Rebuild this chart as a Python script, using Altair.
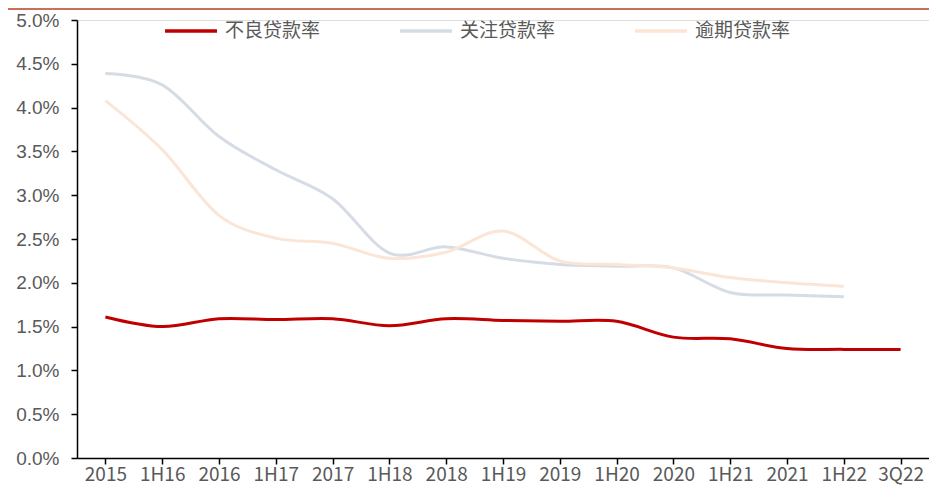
import altair as alt
import pandas as pd

periods = ["2015", "1H16", "2016", "1H17", "2017", "1H18", "2018", "1H19",
           "2019", "1H20", "2020", "1H21", "2021", "1H22", "3Q22"]
npl = [1.61, 1.50, 1.59, 1.58, 1.59, 1.51, 1.59, 1.57, 1.56, 1.56, 1.38, 1.36, 1.25, 1.24, 1.24]
special = [4.39, 4.26, 3.67, 3.29, 2.96, 2.34, 2.41, 2.28, 2.21, 2.19, 2.17, 1.89, 1.86, 1.84, None]
overdue = [4.08, 3.52, 2.77, 2.51, 2.45, 2.28, 2.35, 2.59, 2.25, 2.21, 2.17, 2.06, 2.00, 1.96, None]

series_names = ["不良贷款率", "关注贷款率", "逾期贷款率"]
series_colors = ["#C00000", "#D6DCE5", "#FBE5D6"]

rows = []
for name, vals in zip(series_names, [npl, special, overdue]):
    for i, (p, v) in enumerate(zip(periods, vals)):
        if v is not None:
            rows.append({"period": p, "series": name, "value": v / 100, "order": i})
df = pd.DataFrame(rows)

font = "Noto Sans CJK SC"
numfont = "Liberation Sans"
grey = "#595959"

base = alt.Chart(df)

lines = base.mark_line(interpolate="cardinal", strokeWidth=3).encode(
    x=alt.X("period:N", sort=periods, scale=alt.Scale(paddingInner=0, paddingOuter=0),
            axis=alt.Axis(title=None, labelAngle=0, labelFont=font, labelFontSize=19,
                          labelColor=grey, domainColor="#000000", domainWidth=1.5,
                          tickColor="#000000", tickSize=6, tickWidth=1.5,
                          bandPosition=0, labelPadding=1, grid=False)),
    y=alt.Y("value:Q", scale=alt.Scale(domain=[0, 0.05], nice=False),
            axis=alt.Axis(title=None, format=".1%", values=[i * 0.005 for i in range(11)],
                          labelFont=numfont, labelFontSize=19, labelColor=grey,
                          domainColor="#000000", domainWidth=1.5, tickColor="#000000",
                          tickSize=6, tickWidth=1.5, labelPadding=12, grid=False)),
    color=alt.Color("series:N", sort=series_names,
                    scale=alt.Scale(domain=series_names, range=series_colors),
                    legend=alt.Legend(title=None, orient="none", legendX=86, legendY=-17,
                                      direction="horizontal", symbolType="stroke",
                                      symbolSize=2700, symbolStrokeWidth=3.5,
                                      labelFont=font, labelFontSize=19, labelColor=grey,
                                      labelOffset=6, columnPadding=72)),
    order=alt.Order("zorder:Q"),
    detail="series:N",
).transform_calculate(
    zorder="datum.series == '不良贷款率' ? 3 : (datum.series == '逾期贷款率' ? 2 : 1)"
)

topbar = alt.Chart(pd.DataFrame({"a": [0]})).mark_rule(color="#C87158", strokeWidth=2).encode(
    x=alt.value(-69), x2=alt.value(852), y=alt.value(-11)
)

chart = alt.layer(lines, topbar).properties(
    width=852, height=438, padding={"left": 69, "top": 12, "right": 0, "bottom": 31},
    autosize=alt.AutoSizeParams(type="none"),
).configure_view(stroke=None).configure(background="white")

chart.save("out.html", embed_options={"renderer": "svg", "actions": False})
